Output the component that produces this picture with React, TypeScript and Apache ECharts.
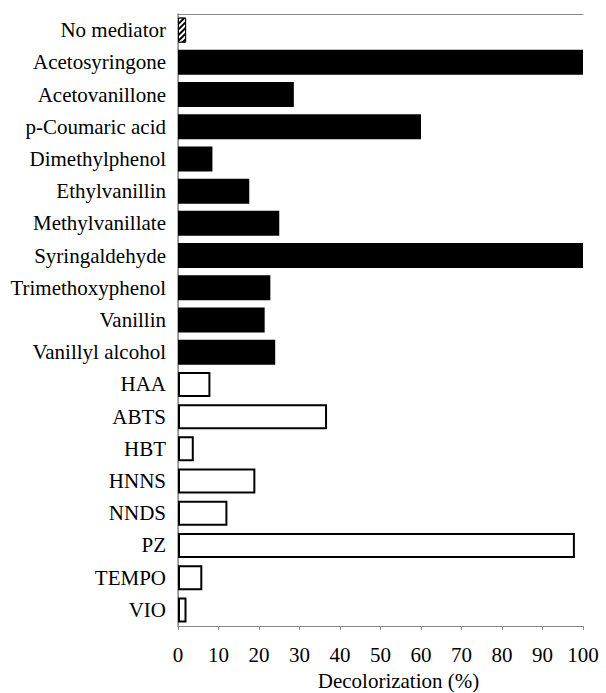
import React, { useEffect, useRef } from "react";
import * as echarts from "echarts";

const categories = [
  "No mediator", "Acetosyringone", "Acetovanillone", "p-Coumaric acid", "Dimethylphenol",
  "Ethylvanillin", "Methylvanillate", "Syringaldehyde", "Trimethoxyphenol", "Vanillin",
  "Vanillyl alcohol", "HAA", "ABTS", "HBT", "HNNS", "NNDS", "PZ", "TEMPO", "VIO",
];
const values = [2, 100, 28.6, 60, 8.5, 17.6, 25, 100, 22.8, 21.4, 24, 8, 36.8, 3.9, 19.1, 12.2, 98, 6, 2.1];
// group: 0 = control (hatched), 1 = natural mediator (black), 2 = synthetic (white)
const groups = [0, 1, 1, 1, 1, 1, 1, 1, 1, 1, 1, 2, 2, 2, 2, 2, 2, 2, 2];
const xTicks = [0, 10, 20, 30, 40, 50, 60, 70, 80, 90, 100];

const FONT = "Liberation Serif, serif";

export default function App() {
  const ref = useRef<HTMLDivElement>(null);
  useEffect(() => {
    const chart = echarts.init(ref.current!, undefined, { renderer: "svg" });
    const data = values.map((v, i) => {
      const g = groups[i];
      if (g === 0) {
        return {
          value: v,
          itemStyle: {
            color: "#000",
            borderColor: "#000",
            borderWidth: 1,
            decal: {
              symbol: "rect",
              symbolSize: 1,
              dashArrayX: [1, 0],
              dashArrayY: [2, 2],
              rotation: -Math.PI / 4,
              color: "#fff",
              backgroundColor: "#000",
            },
          },
        };
      }
      if (g === 1) {
        return { value: v, itemStyle: { color: "#000", borderColor: "#000", borderWidth: 0 } };
      }
      return { value: v, itemStyle: { color: "#fff", borderColor: "#000", borderWidth: 2 } };
    });
    chart.setOption({
      animation: false,
      aria: { enabled: false, decal: { show: false } },
      grid: { left: 178, top: 14, right: 23, bottom: 67, outerBoundsMode: "none", containLabel: false },
      xAxis: [
        {
          type: "value",
          min: 0,
          max: 100,
          interval: 10,
          position: "bottom",
          splitLine: { show: false },
          axisLine: { show: true, lineStyle: { color: "#888", width: 1 } },
          axisTick: { show: true, length: 4, lineStyle: { color: "#888" } },
          axisLabel: {
            margin: 18,
            color: "#000",
            fontFamily: FONT,
            fontSize: 21,
            formatter: (v: number) => (xTicks.includes(v) ? String(v) : ""),
          },
          name: "Decolorization (%)",
          nameLocation: "middle",
          nameGap: 44,
          nameTextStyle: { color: "#000", fontFamily: FONT, fontSize: 21, padding: [0, 0, 0, 36] },
        },
        {
          type: "value",
          min: 0,
          max: 100,
          position: "top",
          splitLine: { show: false },
          axisLine: { show: true, lineStyle: { color: "#888", width: 1 } },
          axisTick: { show: false },
          axisLabel: { show: false },
        },
      ],
      yAxis: [
        {
          type: "category",
          data: categories,
          inverse: true,
          axisLine: { show: true, lineStyle: { color: "#999", width: 1.5 } },
          axisTick: { show: false },
          axisLabel: { color: "#000", fontFamily: FONT, fontSize: 21, margin: 12 },
        },
        {
          type: "category",
          data: categories,
          inverse: true,
          position: "right",
          axisLine: { show: true, lineStyle: { color: "#888", width: 1, type: "dotted" } },
          axisTick: { show: false },
          axisLabel: { show: false },
        },
      ],
      series: [
        {
          type: "bar",
          xAxisIndex: 0,
          yAxisIndex: 0,
          data,
          barWidth: 25,
        },
      ],
    });
    return () => chart.dispose();
  }, []);
  return <div ref={ref} style={{ width: 606, height: 693, position: "absolute", left: 0, top: 0, background: "#fff" }} />;
}
